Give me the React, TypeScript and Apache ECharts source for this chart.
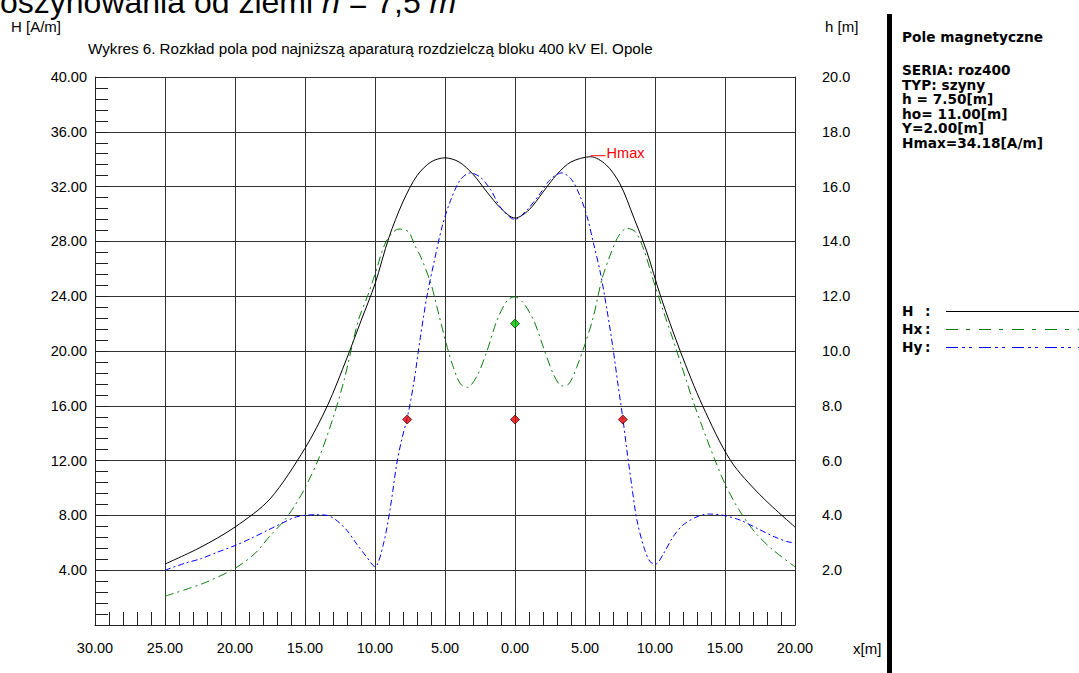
import { useEffect, useRef } from "react";
import * as echarts from "echarts";

// ---- data ----
const hX = [-25, -22.5, -20, -17.5, -15, -13.4, -12, -11, -10, -9, -8, -7, -6, -5, -4, -3, -2, -1, 0, 1, 2, 3, 4, 5.4, 6.5, 7.5, 8.5, 9.4, 10.4, 11.8, 13.4, 15.4, 17.5, 20];
const hV = [4.45, 5.65, 7.15, 9.2, 12.9, 16.0, 19.5, 22.2, 24.9, 28.3, 30.9, 32.8, 33.8, 34.1, 33.8, 32.9, 31.6, 30.4, 29.7, 30.3, 31.6, 32.9, 33.8, 34.18, 33.6, 32.2, 29.7, 27.3, 24.0, 20.0, 16.0, 12.0, 9.5, 7.15];

const hxX = [-25, -23.5, -22, -20, -18.6, -17.5, -16.5, -15.8, -15, -14, -13, -12.2, -11.2, -10.5, -10, -9.2, -8.3, -7.6, -7.2, -6.7, -6, -5.5, -4.9, -4.4, -3.9, -3.4, -2.7, -2, -1.3, -0.55, 0, 0.6, 1.35, 2.05, 2.75, 3.35, 3.85, 4.4, 5, 5.6, 6.2, 6.8, 7.4, 8.0, 8.6, 9.2, 9.9, 10.6, 11.3, 12, 12.7, 13.4, 14.3, 15, 16, 17.2, 18.4, 20];
const hxV = [2.1, 2.6, 3.15, 4.14, 5.2, 6.5, 7.6, 8.6, 10.0, 12.2, 15.1, 17.9, 22.2, 24.1, 25.6, 28.0, 28.9, 28.7, 27.8, 26.8, 24.9, 22.9, 20.5, 18.8, 17.6, 17.35, 18.2, 20.0, 22.2, 23.7, 23.95, 23.5, 22.2, 20.2, 18.3, 17.45, 17.6, 18.8, 20.5, 22.5, 25.2, 27.0, 28.4, 28.95, 28.7, 27.4, 25.1, 22.9, 20.8, 18.6, 16.4, 14.4, 12.0, 10.3, 8.4, 6.7, 5.5, 4.25];

const hyX = [-25, -23.6, -22.4, -21.3, -20, -18.9, -17.7, -16.5, -15.6, -14.3, -13.4, -12.7, -12, -11.3, -10.6, -10, -9.4, -8.9, -8.45, -8.1, -7.7, -7.24, -6.76, -6.29, -5.8, -5.2, -4.6, -3.9, -3.2, -2.5, -1.75, -1.05, 0, 0.86, 1.8, 2.5, 3.35, 4.05, 4.65, 5.15, 5.6, 6.1, 6.57, 7.0, 7.35, 7.7, 8.0, 8.35, 8.7, 9.2, 9.65, 10.05, 10.6, 11.3, 12, 13, 13.8, 14.9, 16.1, 17.3, 18.5, 19.4, 20];
const hyV = [4.0, 4.5, 4.85, 5.3, 5.8, 6.3, 6.9, 7.5, 7.9, 8.05, 8.0, 7.6, 6.9, 5.9, 4.97, 4.25, 5.9, 8.6, 11.75, 13.5, 15.1, 17.6, 21.0, 24.0, 26.4, 29.1, 31.0, 32.5, 33.0, 32.7, 31.8, 30.5, 29.6, 30.3, 31.5, 32.5, 33.0, 32.5, 31.3, 29.8, 27.9, 25.7, 23.0, 20.2, 17.6, 15.1, 12.7, 10.1, 7.7, 5.7, 4.62, 4.45, 5.2, 6.45, 7.3, 7.9, 8.1, 8.0, 7.65, 7.05, 6.45, 6.1, 5.97];

// conductor positions (x [m], h [m])
const phaseX = [-7.7, 0, 7.7];
const phaseH = [7.5, 7.5, 7.5];
const wireX = [0];
const wireH = [11];

const hmaxX = 5.4;
const hmaxValue = 34.18;

const headingParts = ["oszynowania od ziemi ", "h", " = 7,5 ", "m"];
const chartTitle = "Wykres 6. Rozkład pola pod najniższą aparaturą rozdzielczą bloku 400 kV El. Opole";
const panelTitle = "Pole magnetyczne";
const panelLines = ["SERIA: roz400", "TYP: szyny", "h = 7.50[m]", "ho= 11.00[m]", "Y=2.00[m]", "Hmax=34.18[A/m]"];
const legendNames = ["H", "Hx", "Hy"];

const pairs = (xs: number[], ys: number[]) => xs.map((x, i) => [x, ys[i]]);

const FONT = "Liberation Sans";
const BOLD = "DejaVu Sans";

function txt(text: string, x: number, y: number, opts: any = {}) {
  return {
    type: "text",
    x,
    y,
    silent: true,
    style: {
      text,
      fill: opts.fill || "#000",
      fontSize: opts.fontSize || 14.5,
      fontFamily: opts.fontFamily || FONT,
      fontWeight: opts.fontWeight || "normal",
      align: opts.align || "left",
      textAlign: opts.align || "left",
      verticalAlign: "middle",
      textVerticalAlign: "middle",
    },
  };
}

export default function App() {
  const ref = useRef<HTMLDivElement>(null);
  useEffect(() => {
    const chart = echarts.init(ref.current!, null, { renderer: "svg" });
    const axisColor = "#222";
    const gridColor = "#333";
    const labelStyle = { fontSize: 14.5, fontFamily: FONT, color: "#000" };
    const option: any = {
      animation: false,
      backgroundColor: "#fff",
      grid: { left: 95, top: 77, width: 700, height: 548, containLabel: false },
      xAxis: {
        type: "value",
        min: -30,
        max: 20,
        interval: 5,
        axisLine: { show: true, onZero: false, lineStyle: { color: axisColor, width: 1 } },
        axisTick: { show: true, inside: true, length: 13, lineStyle: { color: axisColor } },
        minorTick: { show: true, splitNumber: 5, length: 13, lineStyle: { color: axisColor, width: 1 } },
        splitLine: { show: true, lineStyle: { color: gridColor, width: 1 } },
        axisLabel: {
          ...labelStyle,
          margin: 15,
          showMinLabel: true,
          showMaxLabel: true,
          formatter: (v: number) => Math.abs(v).toFixed(2),
        },
      },
      yAxis: [
        {
          type: "value",
          position: "left",
          min: 0,
          max: 40,
          interval: 4,
          axisLine: { show: true, onZero: false, lineStyle: { color: axisColor, width: 1 } },
          axisTick: { show: true, inside: true, length: 13, lineStyle: { color: axisColor } },
          minorTick: { show: true, splitNumber: 5, length: 13, lineStyle: { color: axisColor, width: 1 } },
          splitLine: { show: true, lineStyle: { color: gridColor, width: 1 } },
          axisLabel: {
            ...labelStyle,
            margin: 8,
            showMinLabel: true,
            showMaxLabel: true,
            formatter: (v: number) => (v === 0 ? "" : v.toFixed(2)),
          },
        },
        {
          type: "value",
          position: "right",
          min: 0,
          max: 20,
          interval: 2,
          axisLine: { show: true, onZero: false, lineStyle: { color: axisColor, width: 1 } },
          axisTick: { show: false },
          splitLine: { show: false },
          axisLabel: {
            ...labelStyle,
            margin: 27,
            showMinLabel: true,
            showMaxLabel: true,
            formatter: (v: number) => (v === 0 ? "" : v.toFixed(1)),
          },
        },
      ],
      series: [
        {
          name: "H",
          type: "line",
          data: pairs(hX, hV),
          showSymbol: false,
          smooth: 0.3,
          lineStyle: { color: "#000", width: 1 },
          z: 3,
        },
        {
          name: "Hx",
          type: "line",
          data: pairs(hxX, hxV),
          showSymbol: false,
          smooth: 0.3,
          lineStyle: { color: "#0a7d0a", width: 1, type: [9, 4, 2, 4] },
          z: 3,
        },
        {
          name: "Hy",
          type: "line",
          data: pairs(hyX, hyV),
          showSymbol: false,
          smooth: 0.3,
          lineStyle: { color: "#0000ff", width: 1, type: [6, 3, 2, 3] },
          z: 4,
        },
        {
          name: "phases",
          type: "scatter",
          yAxisIndex: 1,
          data: pairs(phaseX, phaseH),
          symbol: "diamond",
          symbolSize: 9,
          itemStyle: { color: "#e00000", borderColor: "#500000", borderWidth: 1 },
          z: 6,
        },
        {
          name: "wire",
          type: "scatter",
          yAxisIndex: 1,
          data: pairs(wireX, wireH),
          symbol: "diamond",
          symbolSize: 9,
          itemStyle: { color: "#00c000", borderColor: "#004000", borderWidth: 1 },
          z: 6,
        },
      ],
    };
    chart.setOption(option);

    const [px, py] = chart.convertToPixel({ xAxisIndex: 0, yAxisIndex: 0 }, [hmaxX, hmaxValue]) as number[];

    const heading = {
      type: "text",
      x: 0,
      y: 2,
      silent: true,
      style: {
        text: `{n|${headingParts[0]}}{i|${headingParts[1]}}{n|${headingParts[2]}}{i|${headingParts[3]}}`,
        fontSize: 32,
        fontFamily: FONT,
        fill: "#000",
        verticalAlign: "middle",
        textVerticalAlign: "middle",
        rich: {
          n: { fontSize: 32, fontFamily: FONT, fill: "#000", color: "#000" },
          i: { fontSize: 32, fontFamily: FONT, fontStyle: "italic", fill: "#000", color: "#000" },
        },
      },
    };

    const panelTexts = panelLines.map((t, i) =>
      txt(t, 902, 70 + i * 14.6, { fontFamily: BOLD, fontWeight: "bold", fontSize: 13.7 })
    );

    const legendY = [311, 329, 347];
    const legendColors = ["#000", "#0a7d0a", "#0000ff"];
    const legendDash: any[] = [null, [12, 8, 4, 9], [12, 4, 3, 4, 3, 7]];
    const legendEls: any[] = [];
    legendNames.forEach((n, i) => {
      legendEls.push(txt(n, 902, legendY[i], { fontFamily: BOLD, fontWeight: "bold", fontSize: 13.7 }));
      legendEls.push(txt(":", 925, legendY[i], { fontFamily: BOLD, fontWeight: "bold", fontSize: 13.7 }));
      legendEls.push({
        type: "line",
        silent: true,
        shape: { x1: 946, y1: legendY[i] + 0.5, x2: 1079, y2: legendY[i] + 0.5 },
        style: { stroke: legendColors[i], lineWidth: 1, lineDash: legendDash[i] || undefined },
      });
    });

    chart.setOption({
      graphic: [
        heading,
        txt("H [A/m]", 11, 26, { fontSize: 15 }),
        txt("h [m]", 825, 26, { fontSize: 15 }),
        txt("x[m]", 853, 648, { fontSize: 15 }),
        txt(chartTitle, 88, 48, { fontSize: 15.2 }),
        {
          type: "rect",
          silent: true,
          shape: { x: 887, y: 14, width: 5, height: 660 },
          style: { fill: "#000" },
        },
        txt(panelTitle, 902, 37, { fontFamily: BOLD, fontWeight: "bold", fontSize: 13.7 }),
        ...panelTexts,
        ...legendEls,
        {
          type: "line",
          silent: true,
          z: 10,
          shape: { x1: px, y1: py - 1, x2: px + 15, y2: py - 1 },
          style: { stroke: "#ff0000", lineWidth: 1 },
        },
        { ...txt("Hmax", px + 16, py - 4, { fill: "#ff0000", fontSize: 14.5 }), z: 10 },
      ],
    });

    return () => chart.dispose();
  }, []);
  return (
    <div
      ref={ref}
      style={{ position: "absolute", left: 0, top: 0, width: 1079, height: 673, background: "#fff" }}
    />
  );
}
